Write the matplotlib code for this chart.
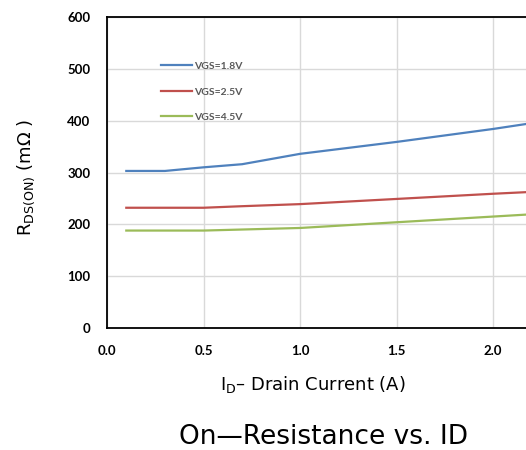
import matplotlib
matplotlib.use("Agg")
import matplotlib.pyplot as plt

# Data
current = [0.1, 0.3, 0.5, 0.7, 1.0, 1.5, 2.0, 2.5]
r_18 = [303, 303, 310, 316, 336, 359, 384, 412]
r_25 = [232, 232, 232, 235, 239, 249, 259, 268]
r_45 = [188, 188, 188, 190, 193, 204, 215, 226]
labels = ["VGS=1.8V", "VGS=2.5V", "VGS=4.5V"]
colors = ["#4F81BD", "#C0504D", "#9BBB59"]
xticks = [0.0, 0.5, 1.0, 1.5, 2.0]
yticks = [0, 100, 200, 300, 400, 500, 600]

fig = plt.figure(figsize=(5.26, 4.5), dpi=100)
ax = fig.add_axes([0.2034, 0.2711, 0.80, 0.6911])

for vals, lab, c in zip([r_18, r_25, r_45], labels, colors):
    ax.plot(current, vals, color=c, lw=1.6, label=lab)

ax.set_xlim(0, 2.18)
ax.set_ylim(0, 600)
ax.set_xticks(xticks)
ax.set_yticks(yticks)
ax.set_xticklabels([f"{v:.1f}" for v in xticks])
ax.set_yticklabels([str(v) for v in yticks])
ax.grid(True, color="#D9D9D9", lw=1)
ax.set_axisbelow(True)
for s in ["left", "bottom", "top"]:
    ax.spines[s].set_color("black")
    ax.spines[s].set_linewidth(1.3)
ax.spines["right"].set_visible(False)
ax.tick_params(length=0, pad=12)
for t in ax.get_xticklabels() + ax.get_yticklabels():
    t.set_fontfamily("Lato")
    t.set_fontweight("bold")
    t.set_fontsize(9.5)

leg = ax.legend(loc="upper left", bbox_to_anchor=(0.128, 0.856), frameon=False,
                prop={"family": "Lato", "weight": "bold", "size": 7.5},
                handlelength=3.0, handletextpad=0.2, labelspacing=1.55,
                borderpad=0, borderaxespad=0)
for t in leg.get_texts():
    t.set_color("#595959")

wide = ["DejaVu Sans", "Noto Sans CJK JP"]
fig.text(0.05, 0.605, "R$_{\\mathregular{DS(ON)}}$ (mΩ )", rotation=90,
         ha="center", va="center", fontsize=13, family=wide)
fig.text(0.595, 0.145, "I$_{\\mathregular{D}}$– Drain Current (A)",
         ha="center", va="center", fontsize=13, family=wide)
fig.text(0.615, 0.03, "On—Resistance vs. ID", ha="center", va="center",
         fontsize=19, family=wide)

fig.savefig("out.png", dpi=100)
